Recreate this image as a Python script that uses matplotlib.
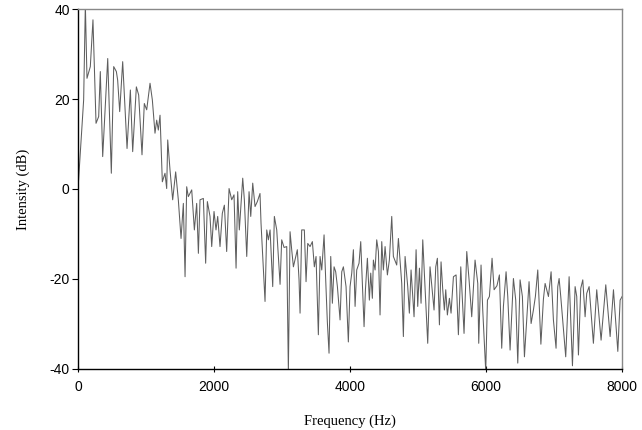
import numpy as np
import matplotlib.pyplot as plt

plt.rcParams['axes.unicode_minus'] = False

# spectrum (Hz, dB)
freq = [0, 83, 108, 132, 181, 220, 265, 304, 328, 363, 437, 490, 525, 564, 583,
        613, 657, 721, 770, 804, 858, 892, 941, 975, 1010, 1059, 1093, 1132,
        1157, 1181, 1206, 1240, 1279, 1304, 1319, 1353, 1392, 1436, 1475, 1515,
        1549, 1574, 1598, 1622, 1672, 1711, 1745, 1770, 1794, 1843, 1877, 1902,
        1941, 1966, 2000, 2029, 2054, 2088, 2122, 2152, 2186, 2221, 2260, 2294,
        2324, 2348, 2372, 2422, 2446, 2481, 2515, 2540, 2569, 2603, 2637, 2676,
        2691, 2750, 2775, 2799, 2824, 2863, 2887, 2922, 2971, 2995, 3030, 3069,
        3093, 3118, 3142, 3167, 3225, 3250, 3265, 3289, 3328, 3353, 3378, 3412,
        3446, 3475, 3500, 3534, 3559, 3584, 3618, 3642, 3666, 3691, 3716, 3740,
        3765, 3789, 3814, 3853, 3878, 3902, 3941, 3975, 4000, 4025, 4049, 4074,
        4098, 4132, 4157, 4206, 4226, 4255, 4284, 4304, 4328, 4343, 4368, 4392,
        4417, 4441, 4466, 4490, 4515, 4549, 4578, 4613, 4637, 4686, 4711, 4760,
        4784, 4809, 4848, 4872, 4897, 4941, 4971, 4995, 5020, 5044, 5069, 5093,
        5142, 5176, 5235, 5260, 5284, 5314, 5338, 5363, 5387, 5407, 5431, 5461,
        5485, 5520, 5559, 5593, 5628, 5676, 5716, 5750, 5789, 5838, 5878, 5892,
        5926, 5951, 5995, 6020, 6049, 6088, 6118, 6160, 6196, 6230, 6255, 6294,
        6319, 6353, 6402, 6436, 6466, 6500, 6534, 6564, 6632, 6662, 6696, 6725,
        6760, 6779, 6806, 6843, 6868, 6917, 6956, 6990, 7029, 7054, 7074, 7098,
        7171, 7221, 7270, 7309, 7333, 7358, 7392, 7422, 7456, 7480, 7515, 7578,
        7627, 7691, 7760, 7824, 7873, 7937, 7971, 8000]
level = [0, 19.8, 41, 24.6, 27.2, 37.6, 14.6, 16.1, 26.1, 7.2, 29, 3.5, 27.2, 26.1, 24.2,
         17.2, 28.3, 9, 22, 8.3, 22.7, 20.9, 7.6, 19, 17.6, 23.5, 19.8, 12.4,
         15.3, 13.1, 16.4, 1.6, 3.5, 0.1, 10.9, 4.2, -2.4, 3.8, -2.4, -11,
         -3.2, -19.5, 0.5, -1.7, -0.2, -9.1, -3.2, -14.3, -2.4, -2.1, -16.5, -2.8,
         -6.1, -12.8, -5, -9.1, -6.1, -12.8, -5.4, -3.6, -13.9, 0.1, -2.4, -1.3,
         -17.6, -0.6, -9.1, 2.4, -2.4, -15, -0.6, -6.1, 1.3, -3.9, -2.8, -1,
         -7.6, -25, -9.1, -11.3, -9.1, -21.7, -6.1, -9.1, -21.2, -11.3, -13, -12.8,
         -40.5, -9.5, -13.5, -17.3, -13.5, -20.2, -27.6, -9.1, -9.1, -20.6, -12.1, -12.8,
         -11.7, -17.3, -15, -32.4, -15, -18, -10.2, -20.2, -29.5, -36.5, -15, -25.4,
         -17.3, -18.4, -21.7, -29.1, -18.4, -17.3, -21.7, -34, -21.7, -18.7, -13.5, -26.1,
         -18, -16.5, -11.7, -30.6, -22.4, -15.4, -24.7, -18.7, -24.3, -15.8, -18, -11.3,
         -13.9, -28, -11.7, -18, -12.8, -19.1, -15.8, -6.1, -15, -16.9, -11, -21,
         -32.8, -15, -21.7, -27.6, -18, -28.4, -13.5, -26.1, -17.6, -25.4, -11.3, -18.7,
         -34.3, -17.3, -26.9, -17.3, -15.4, -30.2, -16.2, -22.4, -26.9, -22.4, -28, -24.3,
         -27.6, -19.5, -19.1, -32.4, -17.3, -32.1, -13.9, -20.2, -28.4, -15.8, -21, -34.3,
         -16.9, -26.9, -40.5, -24.7, -23.9, -15.4, -22.4, -21.5, -19.1, -35.4, -26.1, -18.4,
         -23.9, -35.8, -19.9, -24.7, -38.7, -20.2, -23.9, -37.3, -20.6, -29.9, -26.9, -23.9,
         -18, -24.7, -34.5, -24.5, -21, -23.9, -18.4, -29.1, -35.4, -21.7, -19.9, -23.9,
         -37.3, -19.5, -39.3, -21.7, -23.9, -36.9, -22.1, -20.2, -28.4, -23.2, -21.7, -34.3,
         -22.4, -33.6, -21.3, -32.8, -22.4, -36.1, -24.7, -23.9]

xticks = [0, 2000, 4000, 6000, 8000]
yticks = [-40, -20, 0, 20, 40]

fig = plt.figure(figsize=(6.42, 4.30), dpi=100)
ax = fig.add_axes([0.1215, 0.142, 0.8475, 0.837])
ax.plot(freq, level, color='#5e5e5e', linewidth=0.75)
ax.set_xlim(0, 8000)
ax.set_ylim(-40, 40)
ax.set_xticks(xticks)
ax.set_yticks(yticks)
ax.tick_params(axis='both', labelsize=10, length=4, width=0.8, color='black')
ax.tick_params(axis='x', direction='inout', pad=6)
ax.tick_params(axis='y', pad=2)
for lab in ax.get_xticklabels() + ax.get_yticklabels():
    lab.set_fontfamily('Liberation Sans')
ax.spines['left'].set_color('black')
ax.spines['bottom'].set_color('black')
ax.spines['top'].set_color('#888888')
ax.spines['right'].set_color('#888888')
for s in ax.spines.values():
    s.set_linewidth(1.0)
ax.set_xlabel('Frequency (Hz)', fontfamily='Liberation Serif', fontsize=10.5, labelpad=15)
ax.set_ylabel('Intensity (dB)', fontfamily='Liberation Serif', fontsize=10.5, labelpad=14)

fig.savefig('out.png', dpi=100)
